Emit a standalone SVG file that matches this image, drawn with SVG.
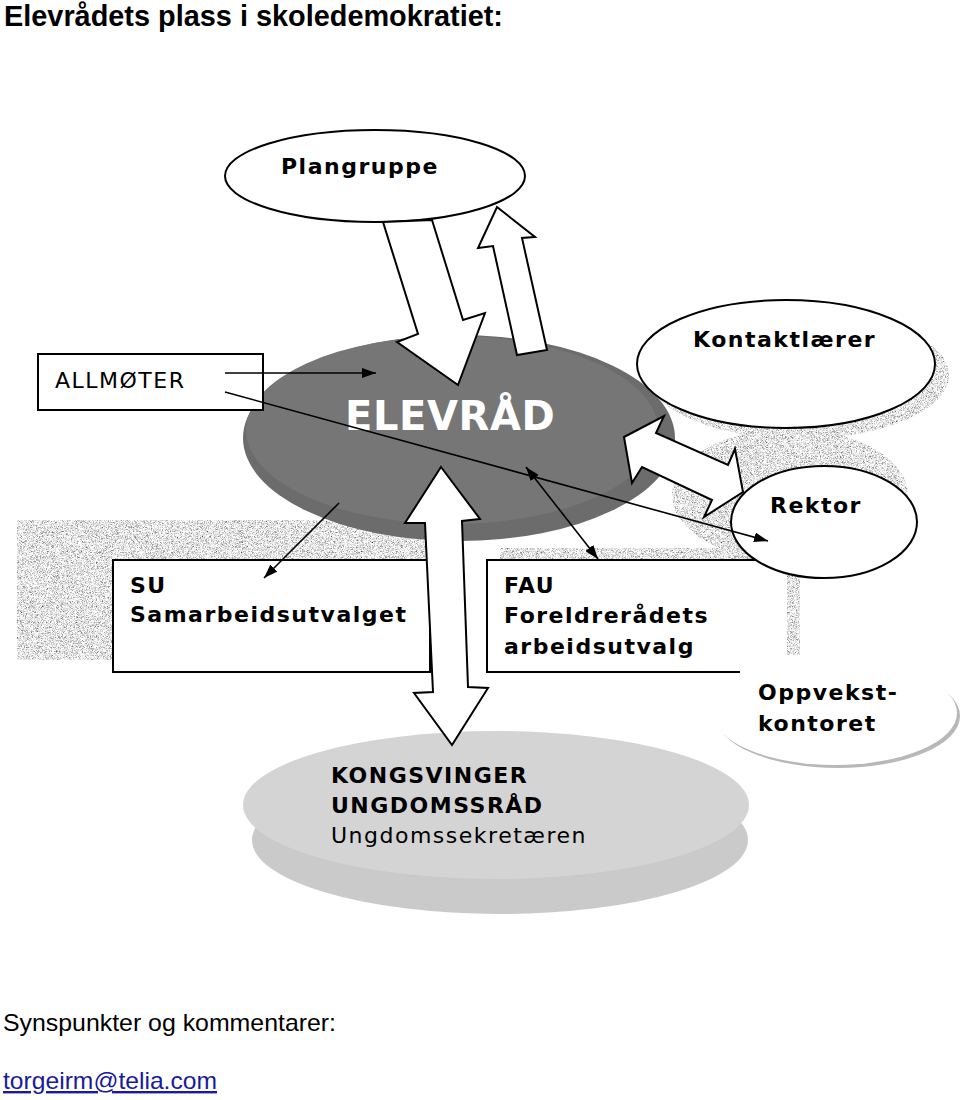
<svg xmlns="http://www.w3.org/2000/svg" width="960" height="1100" viewBox="0 0 960 1100">
<defs>
<style>
.t{font-family:"DejaVu Sans",Verdana,sans-serif;font-size:22px;font-weight:bold;letter-spacing:1.5px;fill:#000}
.r{font-weight:normal}
.box{fill:#fff;stroke:#000;stroke-width:2}
.ell{fill:#fff;stroke:#000;stroke-width:2}
.blk{fill:#fff;stroke:#000;stroke-width:2;stroke-linejoin:miter}
.con{stroke:#000;stroke-width:1.6;fill:none}
.nz{fill:#000;filter:url(#noise)}
</style>
<filter id="noise" x="0" y="0" width="100%" height="100%">
<feTurbulence type="fractalNoise" baseFrequency="2.2" numOctaves="1" seed="7" result="t"/>
<feColorMatrix in="t" type="matrix" values="2.2 0 0 0 -0.32  2.2 0 0 0 -0.32  2.2 0 0 0 -0.32  0 0 0 0 1" result="g"/>
<feComposite in="g" in2="SourceAlpha" operator="in"/>
</filter>
<marker id="ah" viewBox="0 0 14 10" refX="14" refY="5" markerWidth="14" markerHeight="10" orient="auto-start-reverse" markerUnits="userSpaceOnUse">
<path d="M0,0 L14,5 L0,10 z" fill="#000"/>
</marker>
</defs>
<rect width="960" height="1100" fill="#fff"/>

<text x="4" y="26" font-family="'Liberation Sans',Arial,sans-serif" font-size="29" font-weight="bold" textLength="499" lengthAdjust="spacingAndGlyphs">Elevrådets plass i skoledemokratiet:</text>

<g id="shadows">
<rect class="nz" x="17" y="520" width="413" height="140"/>
<rect class="nz" x="500" y="548" width="300" height="107"/>
<ellipse class="nz" cx="790" cy="495" rx="118" ry="66"/>
<ellipse class="nz" cx="799" cy="375" rx="150" ry="64"/>
</g>

<g id="elevraad">
<ellipse cx="459" cy="438" rx="216" ry="103" fill="#6c6c6c"/>
<ellipse cx="452" cy="430" rx="206" ry="94" fill="#767676"/>
<text x="345" y="430" font-family="'DejaVu Sans',Verdana,sans-serif" font-size="40" font-weight="bold" letter-spacing="0.6" fill="#fff">ELEVRÅD</text>
</g>

<g id="su">
<rect class="box" x="113" y="560" width="317" height="112"/>
<text class="t" x="130" y="593">SU</text>
<text class="t" x="130" y="622">Samarbeidsutvalget</text>
</g>

<g id="fau">
<rect x="487" y="560" width="300" height="112" fill="#fff"/>
<path d="M787,560 H487 V672 H740" fill="none" stroke="#000" stroke-width="2"/>
<text class="t" x="504" y="593">FAU</text>
<text class="t" x="504" y="623">Foreldrerådets</text>
<text class="t" x="504" y="654">arbeidsutvalg</text>
</g>

<g id="oppvekst">
<ellipse cx="838" cy="716" rx="122" ry="52" fill="#b8b8b8"/>
<ellipse cx="835" cy="713" rx="122" ry="52" fill="#fff"/>
<text class="t" x="758" y="700">Oppvekst-</text>
<text class="t" x="758" y="731">kontoret</text>
</g>

<g id="ungdomsraad">
<ellipse cx="500" cy="840" rx="248" ry="74" fill="#cacaca"/>
<ellipse cx="496" cy="805" rx="253" ry="74" fill="#d4d4d4"/>
<text class="t" x="331" y="783">KONGSVINGER</text>
<text class="t" x="331" y="813">UNGDOMSSRÅD</text>
<text class="t r" x="331" y="843">Ungdomssekretæren</text>
</g>

<g id="allmoter">
<rect class="box" x="38" y="354" width="225" height="56"/>
<text class="t r" x="55" y="388">ALLMØTER</text>
</g>

<g id="plangruppe">
<ellipse class="ell" cx="375" cy="176" rx="150" ry="46"/>
<text class="t" x="281" y="174">Plangruppe</text>
</g>

<g id="kontaktlaerer">
<ellipse class="ell" cx="786" cy="364" rx="149" ry="64"/>
<text class="t" x="693" y="347">Kontaktlærer</text>
</g>

<g id="rektor">
<ellipse class="ell" cx="824" cy="522" rx="93" ry="56"/>
<text class="t" x="770" y="513">Rektor</text>
</g>

<g id="connectors">
<polygon class="blk" points="383,222 432,220 463,320 485,313 458,385 397,342 418,334"/>
<polygon class="blk" points="497,207 535,237 522,238 547,350 517,355 493,246 478,248"/>
<polygon class="blk" points="624,437 664,416 656,433 728,465 735,449 743,492 704,517 712,500 642,467 632,483"/>
<polygon class="blk" points="441,467 480,519 462,521 468,687 488,688 452,745 414,693 433,692 425,523 405,523"/>
<line class="con" x1="225" y1="373" x2="376" y2="373" marker-end="url(#ah)"/>
<line class="con" x1="225" y1="392" x2="768" y2="541" marker-end="url(#ah)"/>
<line class="con" x1="339" y1="503" x2="264" y2="578" marker-end="url(#ah)"/>
<line class="con" x1="526" y1="467" x2="598" y2="559" marker-start="url(#ah)" marker-end="url(#ah)"/>
</g>

<text x="3" y="1031" font-family="'Liberation Sans',Arial,sans-serif" font-size="24" textLength="333" lengthAdjust="spacingAndGlyphs">Synspunkter og kommentarer:</text>
<text x="3" y="1089" font-family="'Liberation Sans',Arial,sans-serif" font-size="24" fill="#1a1a9c" text-decoration="underline" textLength="214" lengthAdjust="spacingAndGlyphs">torgeirm@telia.com</text>
</svg>
